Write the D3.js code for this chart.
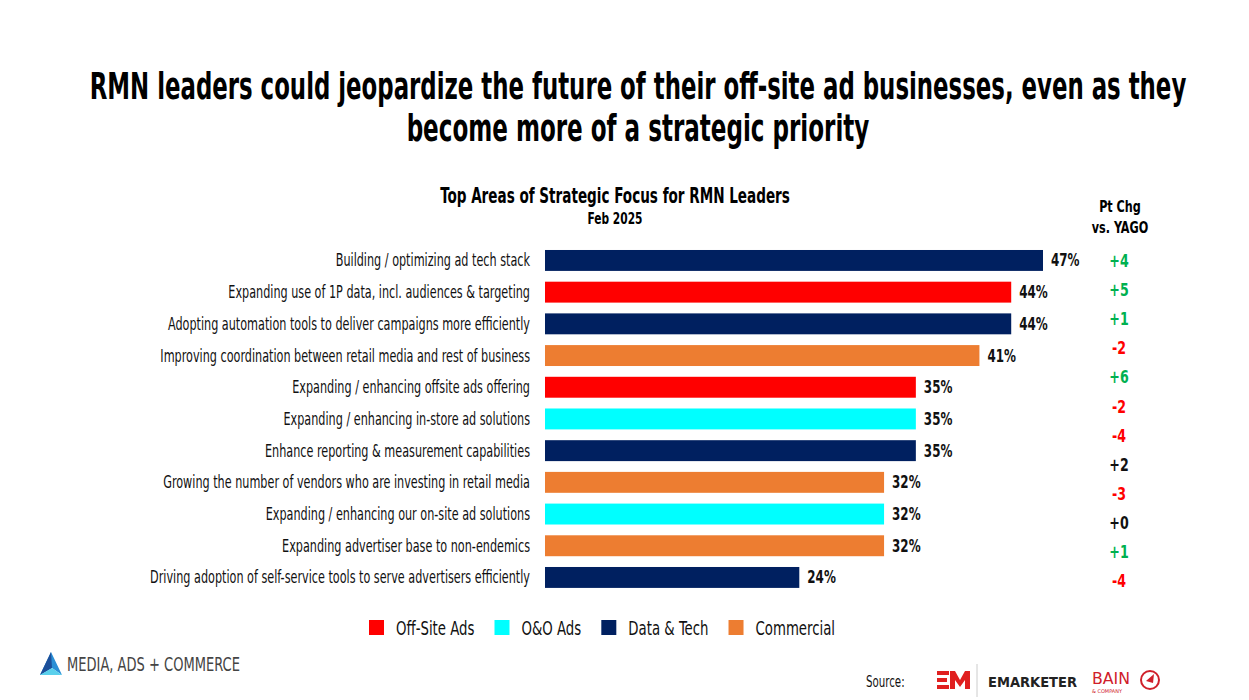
<!DOCTYPE html>
<html>
<head>
<meta charset="utf-8">
<script src="https://cdn.jsdelivr.net/npm/d3@7"></script>
<style>
  body { margin: 0; background: #fff; }
  svg text { font-family: "Liberation Sans Narrow", "DejaVu Sans Condensed", "Roboto", sans-serif; }
</style>
</head>
<body>
<svg id="chart" width="1249" height="700"></svg>
<script>

// data
var categories = [
  'Building / optimizing ad tech stack',
  'Expanding use of 1P data, incl. audiences & targeting',
  'Adopting automation tools to deliver campaigns more efficiently',
  'Improving coordination between retail media and rest of business',
  'Expanding / enhancing offsite ads offering',
  'Expanding / enhancing in-store ad solutions',
  'Enhance reporting & measurement capabilities',
  'Growing the number of vendors who are investing in retail media',
  'Expanding / enhancing our on-site ad solutions',
  'Expanding advertiser base to non-endemics',
  'Driving adoption of self-service tools to serve advertisers efficiently'
];
var values = [47, 44, 44, 41, 35, 35, 35, 32, 32, 32, 24];
var groups = ['Data & Tech', 'Off-Site Ads', 'Data & Tech', 'Commercial', 'Off-Site Ads', 'O&O Ads',
              'Data & Tech', 'Commercial', 'O&O Ads', 'Commercial', 'Data & Tech'];
var ptChange = [4, 5, 1, -2, 6, -2, -4, 2, -3, 0, 1, -4];
var ptChangeColor = ['up', 'up', 'up', 'down', 'up', 'down', 'down', 'flat', 'down', 'flat', 'up', 'down'];
var legendKeys = ['Off-Site Ads', 'O&O Ads', 'Data & Tech', 'Commercial'];
var legendColors = ['#ff0000', '#00ffff', '#002060', '#ed7d31'];

var svg = d3.select('#chart');

var color = d3.scaleOrdinal().domain(legendKeys).range(legendColors);
var chgColor = d3.scaleOrdinal().domain(['up', 'down', 'flat']).range(['#00b050', '#ff0000', '#111']);

// squeeze a text horizontally so it spans w pixels, anchored at (cx, y)
function squeezeTo(sel, cx, y, w)
{
  var natural = sel.node().getComputedTextLength();
  sel.attr('transform', 'translate(' + cx + ',' + y + ') scale(' + (w / natural) + ',1)');
  return sel;
}

// headline
squeezeTo(svg.append('text')
   .attr('text-anchor', 'middle')
   .attr('font-size', 38).attr('font-weight', 'bold')
   .attr('fill', '#000')
   .text('RMN leaders could jeopardize the future of their off-site ad businesses, even as they'), 638, 99, 1097);
squeezeTo(svg.append('text')
   .attr('text-anchor', 'middle')
   .attr('font-size', 38).attr('font-weight', 'bold')
   .attr('fill', '#000')
   .text('become more of a strategic priority'), 638, 141, 463);

// chart title
squeezeTo(svg.append('text')
   .attr('text-anchor', 'middle')
   .attr('font-size', 21).attr('font-weight', 'bold')
   .text('Top Areas of Strategic Focus for RMN Leaders'), 615, 203, 350);
squeezeTo(svg.append('text')
   .attr('text-anchor', 'middle')
   .attr('font-size', 16).attr('font-weight', 'bold')
   .text('Feb 2025'), 615, 224, 55);

// scales
var x = d3.scaleLinear().domain([0, 47]).range([545, 1043]);
var y = d3.scaleBand().domain(categories).range([244.6, 593.3]).paddingInner(0.34).paddingOuter(0.17);

// bars
svg.append('g')
   .selectAll('rect')
   .data(categories)
   .enter()
   .append('rect')
   .attr('x', x(0))
   .attr('y', d => y(d))
   .attr('width', (d, i) => x(values[i]) - x(0))
   .attr('height', y.bandwidth())
   .attr('fill', (d, i) => color(groups[i]));

// category labels, condensed to match the narrow face
var labels = svg.append('g')
   .selectAll('text')
   .data(categories)
   .enter()
   .append('text')
   .attr('font-size', 17)
   .attr('fill', '#111')
   .attr('text-anchor', 'end')
   .text(d => d);

var longest = d3.max(labels.nodes(), n => n.getComputedTextLength());
var squeeze = 380 / longest;
labels.attr('transform', d => 'translate(530,' + (y(d) + y.bandwidth() / 2 + 6) + ') scale(' + squeeze + ',1)');

// value labels
svg.append('g')
   .selectAll('text')
   .data(categories)
   .enter()
   .append('text')
   .attr('font-size', 17)
   .attr('font-weight', 'bold')
   .attr('fill', '#111')
   .attr('transform', (d, i) => 'translate(' + (x(values[i]) + 8) + ',' + (y(d) + y.bandwidth() / 2 + 6) + ') scale(0.78,1)')
   .text((d, i) => values[i] + '%');

// point change column
var yc = d3.scaleBand().domain(d3.range(ptChange.length)).range([246.5, 595.7]);

svg.append('text').attr('text-anchor', 'middle')
   .attr('font-size', 16).attr('font-weight', 'bold')
   .attr('transform', 'translate(1120,212) scale(0.78,1)')
   .text('Pt Chg');
svg.append('text').attr('text-anchor', 'middle')
   .attr('font-size', 16).attr('font-weight', 'bold')
   .attr('transform', 'translate(1120,233) scale(0.78,1)')
   .text('vs. YAGO');

svg.append('g')
   .selectAll('text')
   .data(ptChange)
   .enter()
   .append('text')
   .attr('text-anchor', 'middle')
   .attr('font-size', 18)
   .attr('font-weight', 'bold')
   .attr('fill', (d, i) => chgColor(ptChangeColor[i]))
   .attr('transform', (d, i) => 'translate(1119,' + (yc(i) + yc.bandwidth() / 2 + 6) + ') scale(0.78,1)')
   .text(d => (d < 0 ? '-' : '+') + Math.abs(d));

// legend
var legend = svg.append('g');
var lx = 369;
legendKeys.forEach((k, i) => {
  legend.append('rect')
        .attr('x', lx).attr('y', 620)
        .attr('width', 15).attr('height', 15)
        .attr('fill', color(k));
  var t = legend.append('text')
        .attr('font-size', 20)
        .attr('fill', '#111')
        .text(k);
  var w = t.node().getComputedTextLength() * 0.74;
  t.attr('transform', 'translate(' + (lx + 27) + ',635) scale(0.74,1)');
  lx += 27 + w + 20;
});

// footer left: media logo
var logo = svg.append('g');
logo.append('path')
    .attr('d', 'M51,652 L62,675 L52,668 L40,675 Z')
    .attr('fill', '#2a8fd6');
logo.append('path')
    .attr('d', 'M51,652 L52,668 L40,675 Z')
    .attr('fill', '#1c4f9a');
logo.append('path')
    .attr('d', 'M52,668 L62,675 L40,675 Z')
    .attr('fill', '#5ad0ec');
squeezeTo(svg.append('text')
   .attr('font-size', 20)
   .attr('fill', '#444')
   .text('MEDIA, ADS + COMMERCE'), 67, 671, 173);

// footer right: source line
svg.append('text')
   .attr('font-size', 15)
   .attr('fill', '#111')
   .attr('transform', 'translate(866,687) scale(0.76,1)')
   .text('Source:');

var em = svg.append('g').attr('fill', '#e02020');
em.append('rect').attr('x', 937).attr('y', 671).attr('width', 12).attr('height', 4);
em.append('rect').attr('x', 937).attr('y', 678).attr('width', 10).attr('height', 4);
em.append('rect').attr('x', 937).attr('y', 685).attr('width', 12).attr('height', 4);
em.append('path').attr('d', 'M950,689 L950,671 L955,671 L960,680 L965,671 L970,671 L970,689 L965,689 L965,680 L960,687 L955,680 L955,689 Z');

svg.append('line')
   .attr('x1', 977).attr('x2', 977).attr('y1', 664).attr('y2', 697)
   .attr('stroke', '#ccc').attr('stroke-width', 1);

squeezeTo(svg.append('text')
   .attr('font-family', 'DejaVu Sans')
   .attr('font-size', 14)
   .attr('font-weight', 'bold')
   .attr('fill', '#222')
   .text('EMARKETER'), 988, 687, 89);

squeezeTo(svg.append('text')
   .attr('font-family', 'DejaVu Sans')
   .attr('font-size', 15)
   .attr('fill', '#d0202a')
   .text('BAIN'), 1092, 684, 38);
squeezeTo(svg.append('text')
   .attr('font-family', 'DejaVu Sans')
   .attr('font-size', 5)
   .attr('fill', '#d0202a')
   .text('& COMPANY'), 1092, 693, 30);
svg.append('circle')
   .attr('cx', 1150).attr('cy', 680).attr('r', 9)
   .attr('fill', 'none').attr('stroke', '#d0202a').attr('stroke-width', 2);
svg.append('path')
   .attr('d', 'M1146,681 L1154,674 L1153,683 Z')
   .attr('fill', '#d0202a');

</script>
</body>
</html>
